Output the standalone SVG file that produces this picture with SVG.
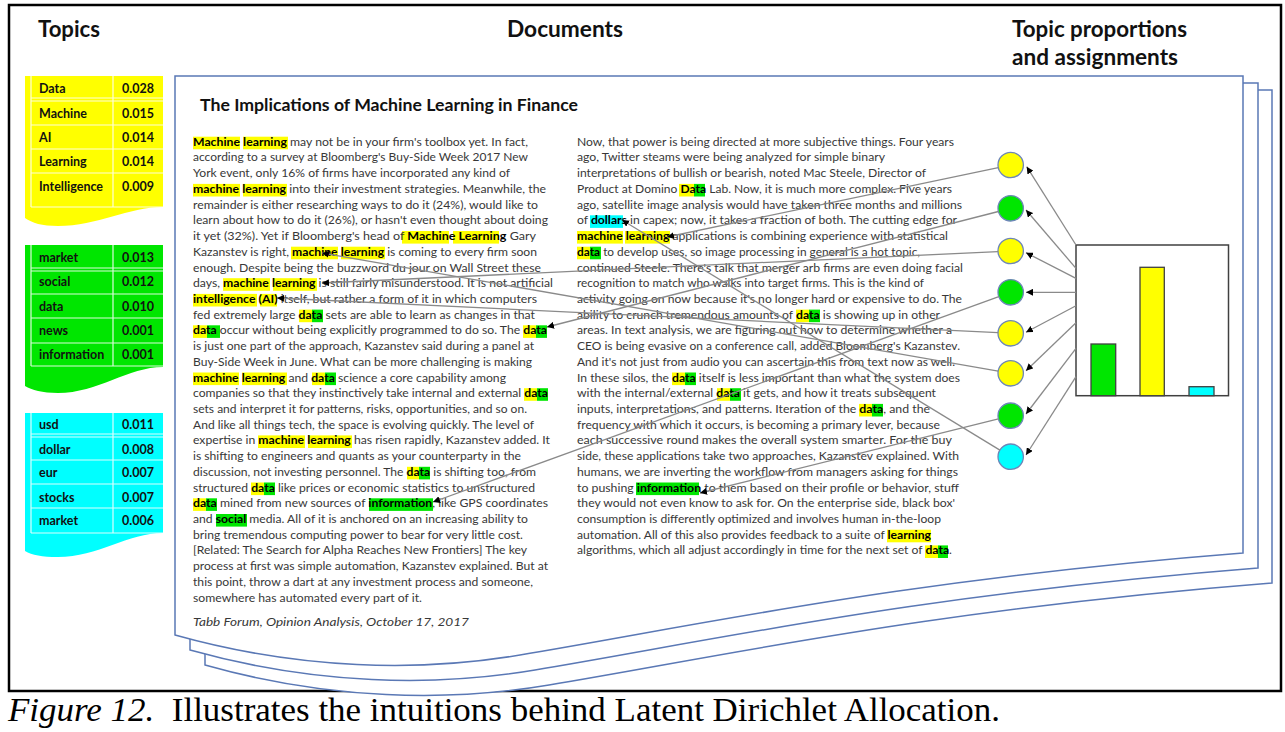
<svg xmlns="http://www.w3.org/2000/svg" width="1285" height="732" viewBox="0 0 1285 732">
<style>
  .hdr{font-family:Lato,"Open Sans",sans-serif;font-weight:700;font-size:22px;fill:#111}
  .ttl{font-family:Lato,"Open Sans",sans-serif;font-weight:700;font-size:17px;fill:#111}
  .tb{font-family:Lato,"Open Sans",sans-serif;font-weight:700;font-size:12.5px;fill:#111}
  .tl{stroke:#ffffff;stroke-width:1.2;opacity:.85;fill:none}
  .bd{font-family:Lato,"Open Sans",sans-serif;font-size:12px;fill:#383838}
  .hl{font-weight:700;fill:#000}
  .cap{font-family:"Liberation Serif","Times New Roman",serif;font-size:34px;fill:#000}
  .y{fill:#ffff00}
  .g{fill:#00e600}
  .c{fill:#00ffff}
  .page{fill:#fff;stroke:#5a78b5;stroke-width:1.5}
  .dot{stroke:#6d86b8;stroke-width:1.3}
  .bar{stroke:#404040;stroke-width:1.3}
  .link{stroke:#8a8a8a;stroke-width:1.3;fill:none;marker-end:url(#ah)}
</style>
<defs>
  <marker id="ah" viewBox="0 0 10 10" refX="10" refY="5" markerWidth="7" markerHeight="7" markerUnits="userSpaceOnUse" orient="auto">
    <path d="M0,0 L10,5 L0,10 z" fill="#000"/>
  </marker>
</defs>

<rect width="1285" height="732" fill="#fff"/>
<!-- outer frame -->
<rect x="9" y="5" width="1272" height="686" fill="none" stroke="#000" stroke-width="2.5"/>

<!-- column headings -->
<g id="headings">
  <text class="hdr" x="38" y="37" textLength="62" lengthAdjust="spacingAndGlyphs">Topics</text>
  <text class="hdr" x="507" y="37" textLength="116" lengthAdjust="spacingAndGlyphs">Documents</text>
  <text class="hdr" x="1012" y="37" textLength="175" lengthAdjust="spacingAndGlyphs">Topic proportions</text>
  <text class="hdr" x="1012" y="65" textLength="166" lengthAdjust="spacingAndGlyphs">and assignments</text>
</g>

<!-- topic word tables -->
<g id="topic-yellow">
  <path class="y" d="M25,76 H163 V207 C128,207 98,226 58,226 C42,226 32,223 25,218 Z"/>
  <path class="tl" d="M31,76 V207 M113,76 V207 M31,98 H163 M31,101 H163 M31,125 H163 M31,149 H163 M31,173 H163 M31,207 H163"/>
  <text class="tb" x="39" y="92.5">Data</text><text class="tb" x="122" y="92.5">0.028</text>
  <text class="tb" x="39" y="117.5">Machine</text><text class="tb" x="122" y="117.5">0.015</text>
  <text class="tb" x="39" y="141.5">AI</text><text class="tb" x="122" y="141.5">0.014</text>
  <text class="tb" x="39" y="166">Learning</text><text class="tb" x="122" y="166">0.014</text>
  <text class="tb" x="39" y="190.5">Intelligence</text><text class="tb" x="122" y="190.5">0.009</text>
</g>
<g id="topic-green">
  <path class="g" d="M25,245 H163 V367 C128,367 98,393 58,393 C42,393 32,390 25,386 Z"/>
  <path class="tl" d="M31,245 V366 M113,245 V366 M31,268 H163 M31,271 H163 M31,294 H163 M31,318 H163 M31,343 H163 M31,366 H163"/>
  <text class="tb" x="39" y="261.5">market</text><text class="tb" x="122" y="261.5">0.013</text>
  <text class="tb" x="39" y="286">social</text><text class="tb" x="122" y="286">0.012</text>
  <text class="tb" x="39" y="310.5">data</text><text class="tb" x="122" y="310.5">0.010</text>
  <text class="tb" x="39" y="334.5">news</text><text class="tb" x="122" y="334.5">0.001</text>
  <text class="tb" x="39" y="359">information</text><text class="tb" x="122" y="359">0.001</text>
</g>
<g id="topic-cyan">
  <path class="c" d="M25,413 H163 V533 C128,533 98,557 58,557 C42,557 32,555 25,551 Z"/>
  <path class="tl" d="M31,413 V533 M113,413 V533 M31,434 H163 M31,437 H163 M31,460 H163 M31,484 H163 M31,508 H163 M31,533 H163"/>
  <text class="tb" x="39" y="428.5">usd</text><text class="tb" x="122" y="428.5">0.011</text>
  <text class="tb" x="39" y="453.5">dollar</text><text class="tb" x="122" y="453.5">0.008</text>
  <text class="tb" x="39" y="477">eur</text><text class="tb" x="122" y="477">0.007</text>
  <text class="tb" x="39" y="501.5">stocks</text><text class="tb" x="122" y="501.5">0.007</text>
  <text class="tb" x="39" y="525">market</text><text class="tb" x="122" y="525">0.006</text>
</g>

<!-- stacked document sheets -->
<g id="document">
  <path class="page" d="M205,90 H1272 V583 C929,610 729,655 549,685 C449,702 329,700 205,665 Z"/>
  <path class="page" d="M190,83 H1258 V568 C915,595 715,640 535,670 C435,687 315,685 190,650 Z"/>
  <path class="page" d="M175,76 H1243 V553 C900,580 700,625 520,655 C420,672 300,670 175,635 Z"/>

  <text class="ttl" x="200" y="111" textLength="378" lengthAdjust="spacingAndGlyphs">The Implications of Machine Learning in Finance</text>

  <!-- word highlights -->
  <g id="highlights">
    <rect class="y" x="193" y="136.7" width="47" height="12.6"/><rect class="y" x="243" y="136.7" width="45" height="12.6"/>
    <rect class="y" x="193" y="183.9" width="47" height="12.6"/><rect class="y" x="243" y="183.9" width="44" height="12.6"/>
    <rect class="y" x="402" y="231" width="47" height="12.6"/><rect class="y" x="453" y="231" width="46" height="12.6"/>
    <rect class="y" x="291" y="246.7" width="47" height="12.6"/><rect class="y" x="341" y="246.7" width="44" height="12.6"/>
    <rect class="y" x="223" y="278.2" width="47" height="12.6"/><rect class="y" x="273" y="278.2" width="44" height="12.6"/>
    <rect class="y" x="193" y="293.9" width="64" height="12.6"/><rect class="y" x="260" y="293.9" width="17" height="12.6"/>
    <rect class="y" x="299" y="309.6" width="13" height="12.6"/><rect class="g" x="312" y="309.6" width="11" height="12.6"/>
    <rect class="y" x="193" y="325.3" width="14" height="12.6"/><rect class="g" x="207" y="325.3" width="13" height="12.6"/>
    <rect class="y" x="523" y="325.3" width="13" height="12.6"/><rect class="g" x="536" y="325.3" width="11" height="12.6"/>
    <rect class="y" x="193" y="372.5" width="46" height="12.6"/><rect class="y" x="242" y="372.5" width="45" height="12.6"/>
    <rect class="y" x="312" y="372.5" width="13" height="12.6"/><rect class="g" x="325" y="372.5" width="11" height="12.6"/>
    <rect class="y" x="524" y="388.2" width="13" height="12.6"/><rect class="g" x="537" y="388.2" width="11" height="12.6"/>
    <rect class="y" x="258" y="435.4" width="47" height="12.6"/><rect class="y" x="308" y="435.4" width="44" height="12.6"/>
    <rect class="y" x="407" y="466.8" width="12" height="12.6"/><rect class="g" x="419" y="466.8" width="11" height="12.6"/>
    <rect class="y" x="251" y="482.5" width="13" height="12.6"/><rect class="g" x="264" y="482.5" width="11" height="12.6"/>
    <rect class="y" x="193" y="498.3" width="13" height="12.6"/><rect class="g" x="206" y="498.3" width="11" height="12.6"/>
    <rect class="g" x="369" y="498.3" width="64" height="12.6"/>
    <rect class="g" x="216" y="514" width="31" height="12.6"/>

    <rect class="y" x="679" y="183.9" width="15" height="12.6"/><rect class="g" x="694" y="183.9" width="11" height="12.6"/>
    <rect class="c" x="590" y="215.3" width="33" height="12.6"/>
    <rect class="y" x="577" y="231" width="46" height="12.6"/><rect class="y" x="625" y="231" width="45" height="12.6"/>
    <rect class="y" x="577" y="246.7" width="13" height="12.6"/><rect class="g" x="590" y="246.7" width="11" height="12.6"/>
    <rect class="y" x="796" y="309.6" width="13" height="12.6"/><rect class="g" x="809" y="309.6" width="11" height="12.6"/>
    <rect class="y" x="672" y="372.5" width="13" height="12.6"/><rect class="g" x="685" y="372.5" width="11" height="12.6"/>
    <rect class="y" x="717" y="388.2" width="13" height="12.6"/><rect class="g" x="730" y="388.2" width="11" height="12.6"/>
    <rect class="y" x="859" y="403.9" width="13" height="12.6"/><rect class="g" x="872" y="403.9" width="11" height="12.6"/>
    <rect class="g" x="636" y="482.5" width="63" height="12.6"/>
    <rect class="y" x="887" y="529.7" width="44" height="12.6"/>
    <rect class="y" x="925" y="545.4" width="13" height="12.6"/><rect class="g" x="938" y="545.4" width="10" height="12.6"/>
  </g>

  <!-- left column -->
  <g class="bd">
    <text x="193" y="145.7" textLength="335" lengthAdjust="spacingAndGlyphs"><tspan class="hl">Machine</tspan> <tspan class="hl">learning</tspan> may not be in your firm's toolbox yet. In fact,</text>
    <text x="193" y="161.4" textLength="335" lengthAdjust="spacingAndGlyphs">according to a survey at Bloomberg's Buy-Side Week 2017 New</text>
    <text x="193" y="177.1" textLength="317" lengthAdjust="spacingAndGlyphs">York event, only 16% of firms have incorporated any kind of</text>
    <text x="193" y="192.9" textLength="353" lengthAdjust="spacingAndGlyphs"><tspan class="hl">machine</tspan> <tspan class="hl">learning</tspan> into their investment strategies. Meanwhile, the</text>
    <text x="193" y="208.6" textLength="345" lengthAdjust="spacingAndGlyphs">remainder is either researching ways to do it (24%), would like to</text>
    <text x="193" y="224.3" textLength="355" lengthAdjust="spacingAndGlyphs">learn about how to do it (26%), or hasn't even thought about doing</text>
    <text x="193" y="240" textLength="343" lengthAdjust="spacingAndGlyphs">it yet (32%). Yet if Bloomberg's head of <tspan class="hl">Machine</tspan> <tspan class="hl">Learning</tspan> Gary</text>
    <text x="193" y="255.7" textLength="344" lengthAdjust="spacingAndGlyphs">Kazanstev is right, <tspan class="hl">machine</tspan> <tspan class="hl">learning</tspan> is coming to every firm soon</text>
    <text x="193" y="271.5" textLength="348" lengthAdjust="spacingAndGlyphs">enough.  Despite being the buzzword du jour on Wall Street these</text>
    <text x="193" y="287.2" textLength="360" lengthAdjust="spacingAndGlyphs">days, <tspan class="hl">machine</tspan> <tspan class="hl">learning</tspan> is still fairly misunderstood. It is not artificial</text>
    <text x="193" y="302.9" textLength="344" lengthAdjust="spacingAndGlyphs"><tspan class="hl">intelligence</tspan> <tspan class="hl">(AI)</tspan> itself, but rather a form of it in which computers</text>
    <text x="193" y="318.6" textLength="342" lengthAdjust="spacingAndGlyphs">fed extremely large <tspan class="hl">data</tspan> sets are able to learn as changes in that</text>
    <text x="193" y="334.3" textLength="354" lengthAdjust="spacingAndGlyphs"><tspan class="hl">data</tspan> occur without being explicitly programmed to do so. The <tspan class="hl">data</tspan></text>
    <text x="193" y="350.1" textLength="341" lengthAdjust="spacingAndGlyphs">is just one part of the approach, Kazanstev said during a panel at</text>
    <text x="193" y="365.8" textLength="339" lengthAdjust="spacingAndGlyphs">Buy-Side Week in June. What can be more challenging is making</text>
    <text x="193" y="381.5" textLength="313" lengthAdjust="spacingAndGlyphs"><tspan class="hl">machine</tspan> <tspan class="hl">learning</tspan> and <tspan class="hl">data</tspan> science a core capability among</text>
    <text x="193" y="397.2" textLength="355" lengthAdjust="spacingAndGlyphs">companies so that they instinctively take internal and external <tspan class="hl">data</tspan></text>
    <text x="193" y="412.9" textLength="334" lengthAdjust="spacingAndGlyphs">sets and interpret it for patterns, risks, opportunities, and so on.</text>
    <text x="193" y="428.7" textLength="341" lengthAdjust="spacingAndGlyphs">And like all things tech, the space is evolving quickly. The level of</text>
    <text x="193" y="444.4" textLength="357" lengthAdjust="spacingAndGlyphs">expertise in <tspan class="hl">machine</tspan> <tspan class="hl">learning</tspan> has risen rapidly, Kazanstev added. It</text>
    <text x="193" y="460.1" textLength="328" lengthAdjust="spacingAndGlyphs">is shifting to engineers and quants as your counterparty in the</text>
    <text x="193" y="475.8" textLength="343" lengthAdjust="spacingAndGlyphs">discussion, not investing personnel. The <tspan class="hl">data</tspan> is shifting too, from</text>
    <text x="193" y="491.5" textLength="342" lengthAdjust="spacingAndGlyphs">structured <tspan class="hl">data</tspan> like prices or economic statistics to unstructured</text>
    <text x="193" y="507.3" textLength="355" lengthAdjust="spacingAndGlyphs"><tspan class="hl">data</tspan> mined from new sources of <tspan class="hl">information</tspan>, like GPS coordinates</text>
    <text x="193" y="523" textLength="335" lengthAdjust="spacingAndGlyphs">and <tspan class="hl">social</tspan> media. All of it is anchored on an increasing ability to</text>
    <text x="193" y="538.7" textLength="330" lengthAdjust="spacingAndGlyphs">bring tremendous computing power to bear for very little cost.</text>
    <text x="193" y="554.4" textLength="334" lengthAdjust="spacingAndGlyphs">[Related: The Search for Alpha Reaches New Frontiers] The key</text>
    <text x="193" y="570.1" textLength="355" lengthAdjust="spacingAndGlyphs">process at first was simple automation, Kazanstev explained. But at</text>
    <text x="193" y="585.9" textLength="340" lengthAdjust="spacingAndGlyphs">this point, throw a dart at any investment process and someone,</text>
    <text x="193" y="601.6" textLength="229" lengthAdjust="spacingAndGlyphs">somewhere has automated every part of it.</text>
    <text x="193" y="625.7" textLength="276" lengthAdjust="spacingAndGlyphs" font-style="italic">Tabb Forum, Opinion Analysis, October 17, 2017</text>
  </g>

  <!-- right column -->
  <g class="bd">
    <text x="577" y="145.7" textLength="377" lengthAdjust="spacingAndGlyphs">Now, that power is being directed at more subjective things. Four years</text>
    <text x="577" y="161.4" textLength="308" lengthAdjust="spacingAndGlyphs">ago, Twitter steams were being analyzed for simple binary</text>
    <text x="577" y="177.1" textLength="349" lengthAdjust="spacingAndGlyphs">interpretations of bullish or bearish, noted Mac Steele, Director of</text>
    <text x="577" y="192.9" textLength="375" lengthAdjust="spacingAndGlyphs">Product at Domino <tspan class="hl">Data</tspan> Lab. Now, it is much more complex. Five years</text>
    <text x="577" y="208.6" textLength="385" lengthAdjust="spacingAndGlyphs">ago, satellite image analysis would have taken three months and millions</text>
    <text x="577" y="224.3" textLength="380" lengthAdjust="spacingAndGlyphs">of <tspan class="hl">dollars</tspan> in capex; now, it takes a fraction of both. The cutting edge for</text>
    <text x="577" y="240" textLength="371" lengthAdjust="spacingAndGlyphs"><tspan class="hl">machine</tspan> <tspan class="hl">learning</tspan> applications is combining experience with statistical</text>
    <text x="577" y="255.7" textLength="343" lengthAdjust="spacingAndGlyphs"><tspan class="hl">data</tspan> to develop uses, so image processing in general is a hot topic,</text>
    <text x="577" y="271.5" textLength="386" lengthAdjust="spacingAndGlyphs">continued Steele. There's talk that merger arb firms are even doing facial</text>
    <text x="577" y="287.2" textLength="347" lengthAdjust="spacingAndGlyphs">recognition to match who walks into target firms. This is the kind of</text>
    <text x="577" y="302.9" textLength="385" lengthAdjust="spacingAndGlyphs">activity going on now because it's no longer hard or expensive to do. The</text>
    <text x="577" y="318.6" textLength="363" lengthAdjust="spacingAndGlyphs">ability to crunch tremendous amounts of <tspan class="hl">data</tspan> is showing up in other</text>
    <text x="577" y="334.3" textLength="375" lengthAdjust="spacingAndGlyphs">areas. In text analysis, we are figuring out how to determine whether a</text>
    <text x="577" y="350.1" textLength="383" lengthAdjust="spacingAndGlyphs">CEO is being evasive on a conference call, added Bloomberg's Kazanstev.</text>
    <text x="577" y="365.8" textLength="378" lengthAdjust="spacingAndGlyphs">And it's not just from audio you can ascertain this from text now as well.</text>
    <text x="577" y="381.5" textLength="383" lengthAdjust="spacingAndGlyphs">In these silos, the <tspan class="hl">data</tspan> itself is less important than what the system does</text>
    <text x="577" y="397.2" textLength="359" lengthAdjust="spacingAndGlyphs">with the internal/external <tspan class="hl">data</tspan> it gets, and how it treats subsequent</text>
    <text x="577" y="412.9" textLength="353" lengthAdjust="spacingAndGlyphs">inputs, interpretations, and patterns. Iteration of the <tspan class="hl">data</tspan>, and the</text>
    <text x="577" y="428.7" textLength="363" lengthAdjust="spacingAndGlyphs">frequency with which it occurs, is becoming a primary lever, because</text>
    <text x="577" y="444.4" textLength="375" lengthAdjust="spacingAndGlyphs">each successive round makes the overall system smarter. For the buy</text>
    <text x="577" y="460.1" textLength="382" lengthAdjust="spacingAndGlyphs">side, these applications take two approaches, Kazanstev explained. With</text>
    <text x="577" y="475.8" textLength="381" lengthAdjust="spacingAndGlyphs">humans, we are inverting the workflow from managers asking for things</text>
    <text x="577" y="491.5" textLength="382" lengthAdjust="spacingAndGlyphs">to pushing <tspan class="hl">information</tspan> to them based on their profile or behavior, stuff</text>
    <text x="577" y="507.3" textLength="378" lengthAdjust="spacingAndGlyphs">they would not even know to ask for. On the enterprise side, black box'</text>
    <text x="577" y="523" textLength="364" lengthAdjust="spacingAndGlyphs">consumption is differently optimized and involves human in-the-loop</text>
    <text x="577" y="538.7" textLength="354" lengthAdjust="spacingAndGlyphs">automation. All of this also provides feedback to a suite of <tspan class="hl">learning</tspan></text>
    <text x="577" y="554.4" textLength="375" lengthAdjust="spacingAndGlyphs">algorithms, which all adjust accordingly in time for the next set of <tspan class="hl">data</tspan>.</text>
  </g>
</g>

<!-- per-word topic assignments -->
<g id="assignments">
  <circle id="z1" class="dot y" cx="1010.7" cy="165" r="12.7"/>
  <circle id="z2" class="dot g" cx="1010.7" cy="208.3" r="12.7"/>
  <circle id="z3" class="dot y" cx="1010.7" cy="251" r="12.7"/>
  <circle id="z4" class="dot g" cx="1010.7" cy="292.3" r="12.7"/>
  <circle id="z5" class="dot y" cx="1010.7" cy="333.3" r="12.7"/>
  <circle id="z6" class="dot y" cx="1010.7" cy="373.3" r="12.7"/>
  <circle id="z7" class="dot g" cx="1010.7" cy="415.7" r="12.7"/>
  <circle id="z8" class="dot c" cx="1010.7" cy="456.7" r="12.7"/>
</g>

<!-- topic proportions -->
<g id="proportions">
  <rect x="1076" y="245" width="152.5" height="150.7" fill="#fff" stroke="#404040" stroke-width="1.5"/>
  <rect class="bar g" x="1091" y="344" width="24.7" height="51.7"/>
  <rect class="bar y" x="1140" y="267.3" width="24.3" height="128.4"/>
  <rect class="bar c" x="1189" y="386.7" width="25" height="9"/>
</g>

<!-- connectors -->
<g id="connectors">
  <line class="link" x1="1076" y1="245" x2="1026.7" y2="166.7"/>
  <line class="link" x1="1076" y1="268.3" x2="1026" y2="210"/>
  <line class="link" x1="1076" y1="278.3" x2="1026" y2="252.7"/>
  <line class="link" x1="1076" y1="292.3" x2="1026" y2="292.3"/>
  <line class="link" x1="1076" y1="305.7" x2="1026" y2="332.3"/>
  <line class="link" x1="1076" y1="322.7" x2="1026" y2="370.7"/>
  <line class="link" x1="1076" y1="348.3" x2="1026" y2="414"/>
  <line class="link" x1="1076" y1="376.7" x2="1026" y2="455"/>

  <line class="link" x1="998.3" y1="167.6" x2="667" y2="237"/>
  <line class="link" x1="998.4" y1="211.5" x2="547" y2="327"/>
  <line class="link" x1="998" y1="251.6" x2="322" y2="283"/>
  <line class="link" x1="998.8" y1="296.6" x2="433" y2="502"/>
  <line class="link" x1="998" y1="332.7" x2="277" y2="298"/>
  <line class="link" x1="998.2" y1="371.1" x2="322" y2="253"/>
  <line class="link" x1="998.4" y1="418.8" x2="700" y2="493"/>
  <line class="link" x1="999.9" y1="450.1" x2="622" y2="220"/>
</g>

<!-- caption -->
<text class="cap" x="8" y="721" textLength="992" lengthAdjust="spacingAndGlyphs"><tspan font-style="italic">Figure 12.</tspan>&#160; Illustrates the intuitions behind Latent Dirichlet Allocation.</text>
</svg>
